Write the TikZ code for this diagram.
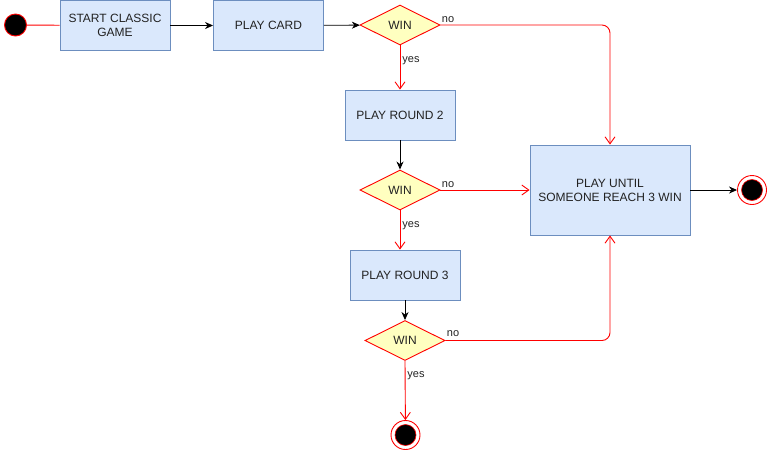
\documentclass[tikz,border=0pt]{standalone}
\usepackage{fontspec}
\setmainfont{Liberation Sans}
\usetikzlibrary{arrows.meta,shapes.geometric}
\definecolor{boxfill}{HTML}{DAE8FC}
\definecolor{boxline}{HTML}{6C8EBF}
\definecolor{dfill}{HTML}{FFFFC0}
\definecolor{txt}{HTML}{222222}
\begin{document}
\begin{tikzpicture}[x=1pt,y=-1pt,line width=0.9pt,
  box/.style={draw=boxline,fill=boxfill,minimum width=110pt,minimum height=50pt,inner sep=0pt,align=center,font=\fontsize{12}{14}\selectfont,text=txt},
  dec/.style={diamond,draw=red,fill=dfill,minimum width=80pt,minimum height=40pt,aspect=2,inner sep=0pt,font=\fontsize{12}{14}\selectfont,text=txt},
  lbl/.style={font=\fontsize{11}{13}\selectfont,text=txt,inner sep=0pt},
  blk/.style={draw=black,-{Stealth[length=8pt,width=7pt,inset=2.5pt]}},
  redarr/.style={draw=red,-{Straight Barb[length=7pt,width=10pt]}},
  startc/.style={circle,draw=red,fill=black,minimum size=22pt,inner sep=0pt},
  endc/.style={circle,draw=red,fill=white,minimum size=29pt,inner sep=0pt},
]
\useasboundingbox (0,0) rectangle (768,451);
\node[startc] (s) at (15.5,25) {};
\node[box] (b1) at (115,25.5) {START CLASSIC\\GAME};
\node[box] (b2) at (268.5,25.5) {PLAY CARD};
\node[dec] (d1) at (400,25) {WIN};
\node[box] (b3) at (400,115) {PLAY ROUND 2};
\node[dec] (d2) at (400,190) {WIN};
\node[box,minimum width=160pt,minimum height=90pt] (b4) at (610,190) {PLAY UNTIL\\SOMEONE REACH 3 WIN};
\node[box] (b5) at (405,275) {PLAY ROUND 3};
\node[dec] (d3) at (405,340.5) {WIN};
\node[endc] (e1) at (752,190) {};
\node[circle,fill=black,draw=red,line width=0.6pt,minimum size=21pt,inner sep=0pt] (e1i) at (e1.center) {};
\node[endc] (e2) at (405.5,435) {};
\node[circle,fill=black,draw=red,line width=0.6pt,minimum size=21pt,inner sep=0pt] (e2i) at (e2.center) {};

\draw[red] (s) -- (b1);
\draw[blk] (b1) -- (b2);
\draw[blk] (b2) -- (d1);
\draw[redarr,rounded corners=8pt] (d1.east) -- (b4.north |- d1.east) -- (b4.north);
\draw[redarr] (d1.south) -- (b3.north);
\draw[blk] (b3) -- (d2);
\draw[redarr] (d2.east) -- (b4.west);
\draw[redarr] (d2.south) -- (d2.south |- b5.north);
\draw[blk] (b5) -- (d3);
\draw[redarr,rounded corners=8pt] (d3.east) -- (b4.south |- d3.east) -- (b4.south);
\draw[redarr] (d3.south) -- (e2);
\draw[blk] (b4) -- (e1);

\node[lbl,anchor=west] (n1) at (441.5,20) {no};
\node[lbl,anchor=west] (y1) at (402,60.5) {yes};
\node[lbl,anchor=west] (n2) at (441.5,185) {no};
\node[lbl,anchor=west] (y2) at (402,225.5) {yes};
\node[lbl,anchor=west] (n3) at (446.5,334) {no};
\node[lbl,anchor=west] (y3) at (407,375.5) {yes};
\end{tikzpicture}
\end{document}
